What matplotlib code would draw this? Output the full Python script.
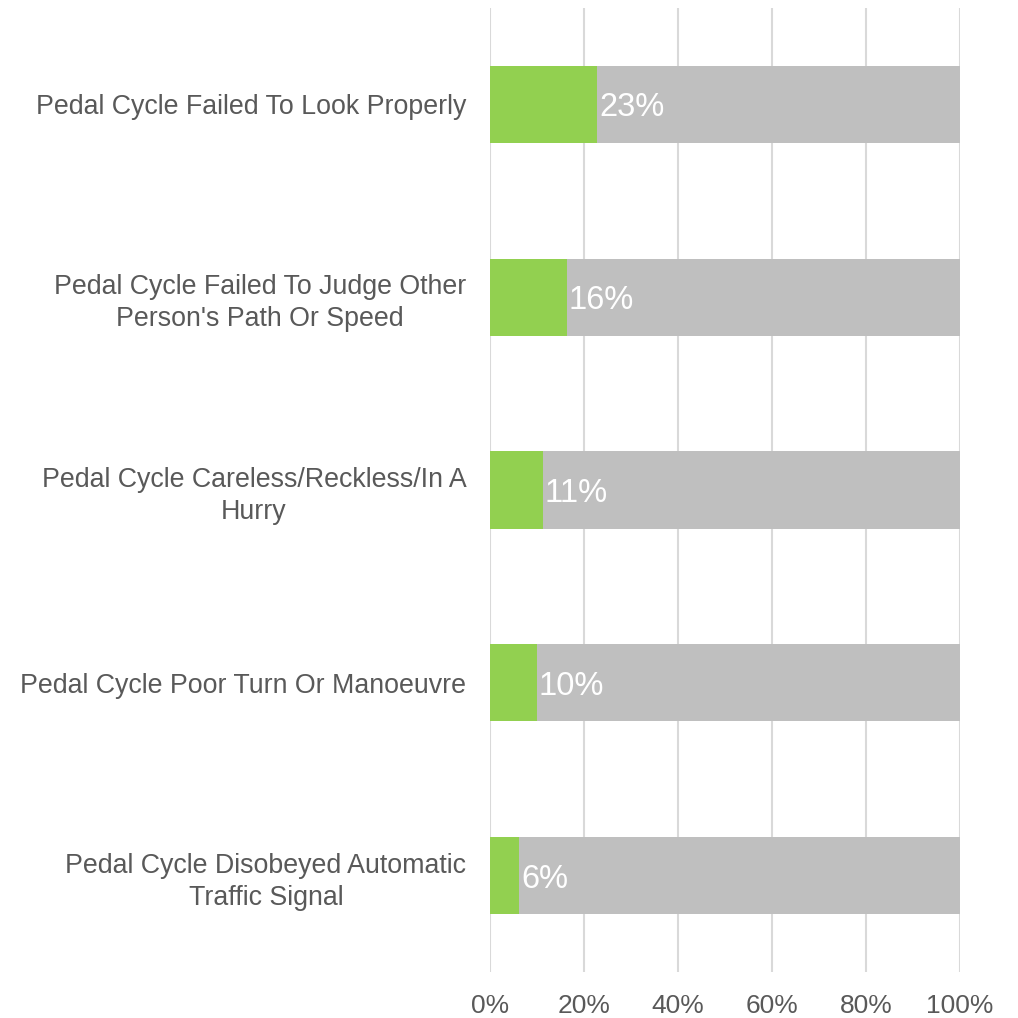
import matplotlib.pyplot as plt
from matplotlib.ticker import PercentFormatter

plt.rcParams['font.family'] = ['Liberation Sans', 'DejaVu Sans']

categories = [
    "Pedal Cycle Failed To Look Properly",
    "Pedal Cycle Failed To Judge Other\nPerson's Path Or Speed",
    "Pedal Cycle Careless/Reckless/In A\nHurry",
    "Pedal Cycle Poor Turn Or Manoeuvre",
    "Pedal Cycle Disobeyed Automatic\nTraffic Signal",
]
share = [0.228, 0.164, 0.113, 0.100, 0.062]
labels = ["23%", "16%", "11%", "10%", "6%"]

green = "#92D050"
grey = "#BFBFBF"
text_col = "#595959"

fig = plt.figure(figsize=(10.18, 10.18), dpi=100)
ax = fig.add_axes([490 / 1018, 46 / 1018, 470 / 1018, 964 / 1018])

ypos = list(range(len(categories)))
rest = [1 - v for v in share]
ax.barh(ypos, share, height=0.4, color=green, zorder=3)
ax.barh(ypos, rest, left=share, height=0.4, color=grey, zorder=3)

for y, v, lab in zip(ypos, share, labels):
    ax.text(v + 0.004, y, lab, color="white", fontsize=23.5,
            ha="left", va="center_baseline", zorder=4)

ax.set_xlim(0, 1)
ax.set_ylim(len(categories) - 0.5, -0.5)
ax.set_xticks([0, 0.2, 0.4, 0.6, 0.8, 1.0])
ax.xaxis.set_major_formatter(PercentFormatter(1.0, decimals=0))
ax.set_yticks(ypos)
ax.set_yticklabels(categories, multialignment="center", linespacing=1.3)
ax.tick_params(axis="both", length=0, labelcolor=text_col)
ax.tick_params(axis="y", pad=17, labelsize=19.3)
ax.tick_params(axis="x", pad=16, labelsize=19)

ax.grid(axis="x", color="#D9D9D9", linewidth=1.5, zorder=0)
for s in ax.spines.values():
    s.set_visible(False)

fig.savefig("out.png", dpi=100)
